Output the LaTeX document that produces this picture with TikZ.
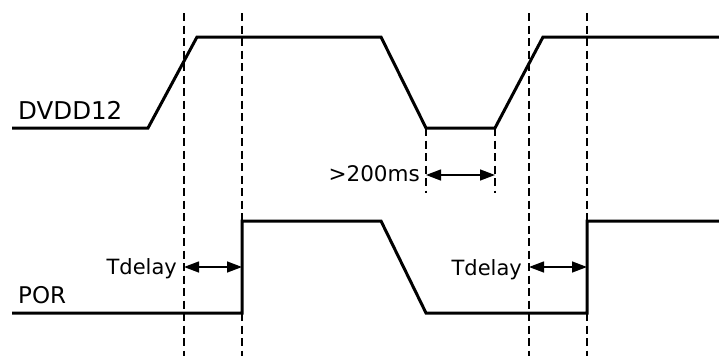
\documentclass[tikz,border=0pt]{standalone}
\usepackage{fontspec}
\setmainfont{DejaVu Sans}
\usetikzlibrary{arrows.meta, positioning}

\begin{document}
\begin{tikzpicture}[
            x=1pt, y=-1pt,
            wave/.style={line width=3pt, line join=miter},
            guide/.style={line width=2.2pt, dash pattern=on 8pt off 4.5pt},
            span/.style={{Triangle[length=15pt,width=11pt]}-{Triangle[length=15pt,width=11pt]}, line width=1.4pt},
            lbl/.style={inner sep=0pt, font=\fontsize{21}{24}\selectfont}
        ]
        \useasboundingbox (0,0) rectangle (719,356);

        % Guides
        \draw[guide] (184,13) -- (184,356);
        \draw[guide] (242,13) -- (242,356);
        \draw[guide] (529,13) -- (529,356);
        \draw[guide] (587,13) -- (587,356);
        \draw[guide] (426,128) -- (426,193);
        \draw[guide] (495,128) -- (495,193);

        % Waveforms
        \draw[wave] (12,128) -- (148,128) -- (197,37) -- (381,37) -- (426,128)
            -- (495,128) -- (543,37) -- (719,37);
        \draw[wave] (12,313) -- (242,313) -- (242,221) -- (381,221) -- (426,313)
            -- (587,313) -- (587,221) -- (719,221);

        % Nodes
        \node[lbl, font=\fontsize{24.5}{28}\selectfont, anchor=base west] (dvdd) at (18,119) {DVDD12};
        \node[lbl, font=\fontsize{23}{27}\selectfont, anchor=base west] (por) at (18,303) {POR};
        \node[lbl, anchor=base east] (tdelayA) at (177,274) {Tdelay};
        \node[lbl, anchor=base east] (tdelayB) at (522,275) {Tdelay};
        \node[lbl, font=\fontsize{21.5}{25}\selectfont, anchor=base east] (gap) at (420,181) {>200ms};

        \coordinate (a1) at (184,267);
        \coordinate (a2) at (242,267);
        \coordinate (b1) at (529,267);
        \coordinate (b2) at (587,267);
        \coordinate (g1) at (426,175);
        \coordinate (g2) at (495,175);

        % Arrows
        \draw[span] (a1) -- (a2);
        \draw[span] (b1) -- (b2);
        \draw[span] (g1) -- (g2);

\end{tikzpicture}
\end{document}
